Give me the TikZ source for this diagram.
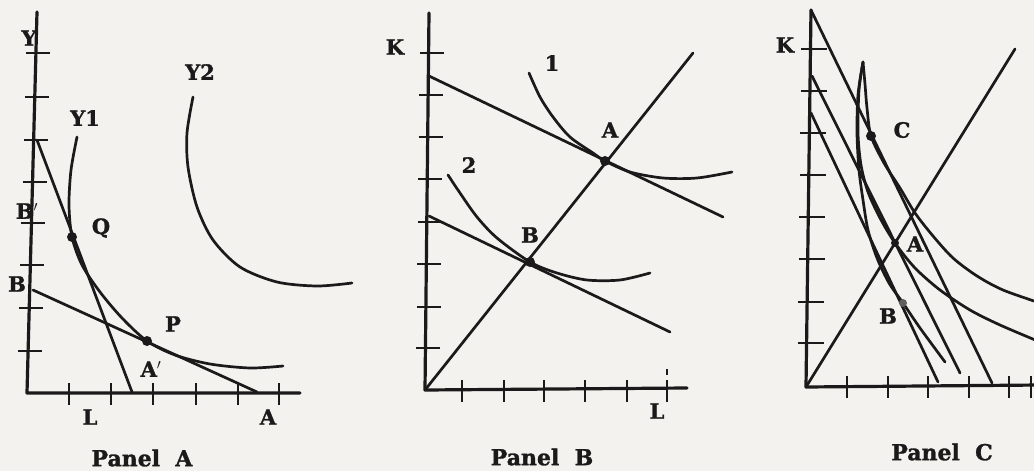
\documentclass[tikz,border=0pt]{standalone}
\usepackage{fontspec}
\setmainfont{DejaVu Serif}
\newfontfamily\heavy[FakeBold=1.3]{DejaVu Serif Bold}
\definecolor{ink}{HTML}{1A1A1A}
\definecolor{paper}{HTML}{F4F2EF}
\begin{document}
\begin{tikzpicture}[x=1pt,y=-1pt,
  ax/.style={line width=3.2pt, draw=ink, line cap=round, line join=round},
  tk/.style={line width=2.8pt, draw=ink},
  crv/.style={line width=2.7pt, draw=ink, line cap=round},
  lbl/.style={font=\heavy\fontsize{21}{21}\selectfont, text=ink, inner sep=0pt},
  ttl/.style={font=\heavy\fontsize{22}{22}\selectfont, text=ink, inner sep=0pt},
  dot/.style={circle, fill=ink, inner sep=0pt, minimum size=10pt},
]
\fill[paper] (0,0) rectangle (1034,471);
\useasboundingbox (0,0) rectangle (1034,471);
\clip (0,0) rectangle (1034,471);

% ================= Panel A =================
\coordinate (Aytop) at (37,12);
\coordinate (Ao) at (27,393);
\coordinate (Axr) at (300,393);
\draw[ax] (Aytop) -- (Ao) -- (Axr);
\foreach \yy in {53,97,140,182,223,265,308,351}
  \draw[tk] ({27+10*(393-\yy)/381-10},\yy) -- ++(24,0);
\foreach \xx in {69,111,153,196,238,279}
  \draw[tk] (\xx,383) -- (\xx,405);
\coordinate (AQa) at (37,140);
\coordinate (AQb) at (132,392);
\coordinate (APa) at (33,290);
\coordinate (APb) at (257,392);
\draw[crv] (AQa) -- (AQb);
\draw[crv] (APa) -- (APb);
\draw[crv] plot[smooth] coordinates {(77,137) (71,170) (69,205) (72,237) (82,265) (100,292) (122,318) (147,341) (175,355) (210,364) (250,368) (283,366)};
\draw[crv] plot[smooth] coordinates {(193,97) (187,133) (188,167) (197,207) (213,240) (240,267) (277,282) (317,286) (352,283)};
\node[dot] (Q) at (72,237) {};
\node[dot] (P) at (147,341) {};
\node[lbl] (lY) at (29,38) {Y};
\node[lbl] (lY1) at (85,118) {Y1};
\node[lbl] (lY2) at (200,72) {Y2};
\node[lbl] (lBp) at (27,211) {B$'$};
\node[lbl] (lB) at (17,284) {B};
\node[lbl] (lQ) at (101,228) {Q};
\node[lbl] (lP) at (173,324) {P};
\node[lbl] (lAp) at (151,369) {A$'$};
\node[lbl] (lL) at (90,417) {L};
\node[lbl] (lA) at (268,417) {A};
\node[ttl] (tA) at (142,458) {Panel\ \ A};

% ================= Panel B =================
\coordinate (Bytop) at (429,13);
\coordinate (Bo) at (425,390);
\coordinate (Bxr) at (687,388);
\draw[ax] (Bytop) -- (Bo) -- (Bxr);
\foreach \yy in {53,95,137,179,222,264,307,348}
  \draw[tk] ({425+4*(390-\yy)/377-9},\yy) -- ++(24,0);
\foreach \xx in {462,504,544,585,627,667}
  \draw[tk] (\xx,380) -- (\xx,402);
\draw[tk] (667,369) -- (667,375);
\coordinate (Bray) at (693,53);
\draw[crv] (Bo) -- (Bray);
\coordinate (B1a) at (429,76);
\coordinate (B1b) at (723,217);
\coordinate (B2a) at (429,216);
\coordinate (B2b) at (670,332);
\draw[crv] (B1a) -- (B1b);
\draw[crv] (B2a) -- (B2b);
\draw[crv] plot[smooth] coordinates {(529,73) (540,97) (553,117) (570,137) (593,153) (605,161) (630,172) (663,178) (697,178) (732,172)};
\draw[crv] plot[smooth] coordinates {(448,175) (460,193) (477,217) (497,238) (530,262) (557,273) (587,280) (620,280) (650,273)};
\node[dot] (BA) at (605,161) {};
\node[dot] (BB) at (530,262) {};
\node[lbl] (lK) at (395,47) {K};
\node[lbl] (l1) at (552,63) {1};
\node[lbl] (l2) at (469,165) {2};
\node[lbl] (lBA) at (610,130) {A};
\node[lbl] (lBB) at (530,235) {B};
\node[lbl] (lBL) at (657,411) {L};
\node[ttl] (tB) at (542,457) {Panel\ \ B};

% ================= Panel C =================
\coordinate (Cytop) at (811,10);
\coordinate (Co) at (806,387);
\coordinate (Cxr) at (1040,385);
\draw[ax] (Cytop) -- (Co) -- (Cxr);
\foreach \yy in {49,91,133,175,217,259,302,343}
  \draw[tk] ({806+5*(387-\yy)/377-9},\yy) -- ++(26,0);
\foreach \xx in {847,888,928,969,1009,1031}
  \draw[tk] (\xx,376) -- (\xx,398);
\coordinate (C1b) at (992,383);
\coordinate (C2a) at (812,76);
\coordinate (C2b) at (960,373);
\coordinate (C3a) at (811,113);
\coordinate (C3b) at (938,382);
\coordinate (Cray) at (1015,49);
\draw[crv] (Cytop) -- (C1b);
\draw[crv] (C2a) -- (C2b);
\draw[crv] (C3a) -- (C3b);
\draw[crv] (Co) -- (Cray);
% outer isoquant
\draw[crv] plot[smooth] coordinates {(863,62) (865,84) (867,108) (871,136) (884,163) (900,188) (915,213) (933,236) (953,258) (977,276) (1003,290) (1040,303)};
% middle isoquant
\draw[crv] plot[smooth] coordinates {(863,62) (859,90) (858,133) (861,165) (868,192) (880,218) (895,243) (915,268) (940,290) (970,310) (1000,325) (1040,342)};
% inner isoquant
\draw[crv] plot[smooth] coordinates {(863,62) (858,95) (857,133) (859,170) (863,200) (868,230) (877,258) (889,283) (903,303) (920,328) (945,362)};
\node[dot] (CC) at (871,136) {};
\node[dot, minimum size=8pt] (CA) at (895,243) {};
\node[dot, minimum size=8pt, fill=ink!70] (CB) at (903,303) {};
\node[lbl] (lCK) at (785,45) {K};
\node[lbl] (lCC) at (902,130) {C};
\node[lbl] (lCA) at (915,244) {A};
\node[lbl] (lCB) at (888,316) {B};
\node[ttl] (tC) at (942,452) {Panel\ \ C};
\end{tikzpicture}
\end{document}
